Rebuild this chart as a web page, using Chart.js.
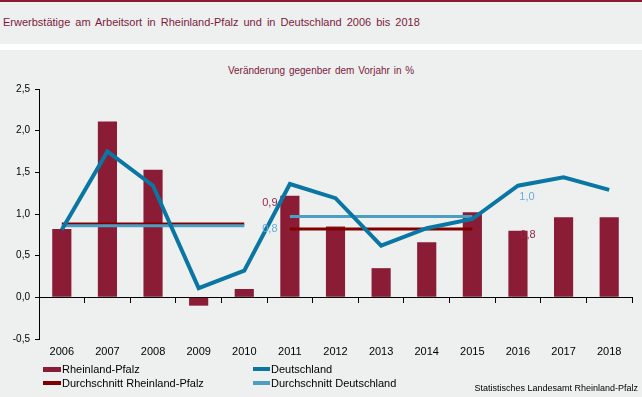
<!DOCTYPE html>
<html lang="de">
<head>
<meta charset="utf-8">
<title>Erwerbstätige am Arbeitsort</title>
<script src="https://cdn.jsdelivr.net/npm/chart.js@4.4.1/dist/chart.umd.min.js"></script>
<style>
  html, body { margin:0; padding:0; }
  body { width:642px; height:397px; position:relative; overflow:hidden; background:#eef0ef; font-family: Arial, "Liberation Sans", sans-serif; }
  #topbar { position:absolute; left:0; top:0; width:642px; height:2px; background:#8b1a33; }
  #title { position:absolute; left:3px; top:16px; font-size:11px; color:#7d1a3c; word-spacing:2px; white-space:nowrap; }
  #strip { position:absolute; left:0; top:44px; width:642px; height:6px; background:#fff; }
  #subtitle { position:absolute; left:0; width:642px; top:65px; text-align:center; font-size:10px; color:#7d1a3c; word-spacing:1px; white-space:nowrap; }
  #chart { position:absolute; left:0; top:0; }
  .leg { position:absolute; font-size:11px; color:#000; white-space:nowrap; line-height:12px; }
  .leg i { position:absolute; top:4px; height:4px; }
  #source { position:absolute; right:4px; top:383px; font-size:9px; color:#000; white-space:nowrap; }
</style>
</head>
<body>
<div id="topbar"></div>
<div id="title">Erwerbstätige am Arbeitsort in Rheinland-Pfalz und in Deutschland 2006 bis 2018</div>
<div id="strip"></div>
<div id="subtitle">Veränderung gegenber dem Vorjahr in %</div>
<canvas id="chart" width="642" height="397"></canvas>
<div id="legend"></div>
<div id="source">Statistisches Landesamt Rheinland-Pfalz</div>
<script>
// values (percent change vs. previous year)
const years = ['2006','2007','2008','2009','2010','2011','2012','2013','2014','2015','2016','2017','2018'];
const rlp = [0.82, 2.11, 1.53, -0.10, 0.10, 1.22, 0.85, 0.35, 0.66, 1.02, 0.80, 0.96, 0.96];
const de  = [0.81, 1.75, 1.34, 0.11, 0.32, 1.36, 1.19, 0.62, 0.83, 0.94, 1.34, 1.44, 1.29];
// averages, first period 2006-2010, second 2011-2015
const avgRlpA = [0.88, 0.88, 0.88, 0.88, 0.88, null, null, null, null, null, null, null, null];
const avgRlpB = [null, null, null, null, null, 0.82, 0.82, 0.82, 0.82, 0.82, null, null, null];
const avgDeA  = [0.86, 0.86, 0.86, 0.86, 0.86, null, null, null, null, null, null, null, null];
const avgDeB  = [null, null, null, null, null, 0.97, 0.97, 0.97, 0.97, 0.97, null, null, null];
const avgLabels = ['0,9', '0,8', '0,8', '1,0']; // rlpA, rlpB, deA, deB
const yTicks = [-0.5, 0, 0.5, 1, 1.5, 2, 2.5];

const C_RLP = '#8a1c35', C_DE = '#0a76a4', C_AVG_RLP = '#800000', C_AVG_DE = '#4c9fc3';
const C_LBL_RLP = '#9a2548', C_LBL_DE = '#6aaed6';

// draws the rounded average next to the end of each average line
const endLabels = {
  id: 'endLabels',
  afterDatasetsDraw(chart){
    const ctx = chart.ctx, xs = chart.scales.x, ys = chart.scales.y;
    chart.data.datasets.forEach(ds => {
      if(!ds.endLabel) return;
      let last = -1, val = null;
      ds.data.forEach((v, i) => { if(v !== null){ last = i; val = v; } });
      const l = ds.endLabel;
      ctx.save();
      ctx.font = '11px Arial, "Liberation Sans", sans-serif';
      ctx.fillStyle = l.color;
      ctx.textAlign = 'center';
      ctx.textBaseline = 'middle';
      ctx.fillText(l.text, xs.getPixelForValue(last + 1) + l.dx, ys.getPixelForValue(val) + l.dy);
      ctx.restore();
    });
  }
};

new Chart(document.getElementById('chart'), {
  data: {
    labels: years,
    datasets: [
      { type:'line', label:'Deutschland', data:de, borderColor:C_DE, borderWidth:4, pointRadius:0, tension:0, order:1 },
      { type:'line', label:'Durchschnitt Deutschland', data:avgDeA, borderColor:C_AVG_DE, borderWidth:3, pointRadius:0, order:2,
        endLabel:{ text:avgLabels[2], color:C_LBL_DE, dx:-20, dy:3 } },
      { type:'line', label:'Durchschnitt Deutschland', data:avgDeB, borderColor:C_AVG_DE, borderWidth:3, pointRadius:0, order:2,
        endLabel:{ text:avgLabels[3], color:C_LBL_DE, dx:9, dy:-20 } },
      { type:'line', label:'Durchschnitt Rheinland-Pfalz', data:avgRlpA, borderColor:C_AVG_RLP, borderWidth:3, pointRadius:0, order:3,
        endLabel:{ text:avgLabels[0], color:C_LBL_RLP, dx:-20, dy:-21 } },
      { type:'line', label:'Durchschnitt Rheinland-Pfalz', data:avgRlpB, borderColor:C_AVG_RLP, borderWidth:3, pointRadius:0, order:3,
        endLabel:{ text:avgLabels[1], color:C_LBL_RLP, dx:10, dy:6 } },
      { type:'bar', label:'Rheinland-Pfalz', data:rlp, backgroundColor:C_RLP, categoryPercentage:1, barPercentage:0.42, order:5 }
    ]
  },
  options: {
    responsive:false,
    animation:false,
    layout:{ padding:{ left:0, right:10, top:89, bottom:38 } },
    plugins:{ legend:{ display:false }, tooltip:{ enabled:false } },
    scales:{
      y:{
        min:-0.5, max:2.5,
        afterBuildTicks: s => { s.ticks = yTicks.map(v => ({ value:v })); },
        afterFit: s => { s.width = 39; },
        ticks:{ color:'#000', font:{ size:10, family:'Arial' }, padding:5,
          callback: v => Number(v).toFixed(1).replace('.', ',') },
        grid:{ drawOnChartArea:false, drawTicks:true, tickLength:4, color:'#000' },
        border:{ color:'#000' }
      },
      x:{
        type:'category', position:{ y:0 }, offset:true,
        ticks:{ display:false },
        grid:{ offset:true, drawOnChartArea:false, drawTicks:true, tickLength:5, color:'#000' },
        border:{ color:'#000' }
      },
      x2:{
        type:'category', labels:years, position:'bottom', offset:true,
        afterFit: s => { s.height = 20; },
        ticks:{ color:'#000', font:{ size:11, family:'Arial' }, padding:6, maxRotation:0, autoSkip:false },
        grid:{ display:false, drawTicks:false },
        border:{ display:false }
      }
    }
  },
  plugins:[endLabels]
});

// legend in two columns, same entries as the datasets
const legendItems = [
  { text:'Rheinland-Pfalz', color:C_RLP, col:0, row:0, h:5 },
  { text:'Deutschland', color:C_DE, col:1, row:0, h:4 },
  { text:'Durchschnitt Rheinland-Pfalz', color:C_AVG_RLP, col:0, row:1, h:4 },
  { text:'Durchschnitt Deutschland', color:C_AVG_DE, col:1, row:1, h:4 }
];
const legend = document.getElementById('legend');
legendItems.forEach(it => {
  const d = document.createElement('div');
  d.className = 'leg';
  const boxX = it.col === 0 ? 43 : 253;
  d.style.left = boxX + 'px';
  d.style.top = (363 + it.row * 14) + 'px';
  d.style.paddingLeft = (it.col === 0 ? 19 : 18) + 'px';
  const sw = document.createElement('i');
  sw.style.left = '0px';
  sw.style.width = (it.col === 0 ? 18 : 17) + 'px';
  sw.style.height = it.h + 'px';
  sw.style.background = it.color;
  d.appendChild(sw);
  d.appendChild(document.createTextNode(it.text));
  legend.appendChild(d);
});
</script>
</body>
</html>
